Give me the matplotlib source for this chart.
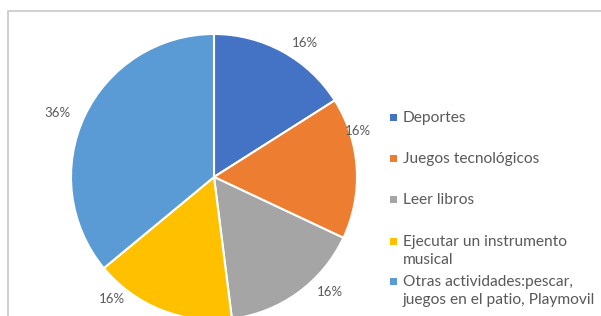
import matplotlib.pyplot as plt
import numpy as np
from matplotlib.patches import Rectangle

# Data
categories = [
    "Deportes",
    "Juegos tecnológicos",
    "Leer libros",
    "Ejecutar un instrumento\nmusical",
    "Otras actividades:pescar,\njuegos en el patio, Playmovil",
]
shares = [16, 16, 16, 16, 36]
colors = ["#4472C4", "#ED7D31", "#A5A5A5", "#FFC000", "#5B9BD5"]

# Label placement (polar, in pie-radius units), as Excel positioned them
label_angles = [55.8, 17.7, -44.7, -129.9, 157.7]
label_radii = [1.13, 1.06, 1.14, 1.11, 1.18]

plt.rcParams["font.family"] = ["Lato", "DejaVu Sans"]
text_color = "#595959"

W, H = 601, 316
fig = plt.figure(figsize=(W / 100, H / 100), dpi=100)

# Chart frame (cropped on the right and bottom)
fig.add_artist(
    Rectangle((8 / W, -0.2), 1.2, 0.2 + (H - 11) / H,
              transform=fig.transFigure, fill=False,
              edgecolor="#C8C8C8", linewidth=1.2, clip_on=False)
)

cx, cy, r = 214, 177, 143
ax = fig.add_axes([(cx - r) / W, (H - cy - r) / H, 2 * r / W, 2 * r / H])
wedges, _ = ax.pie(
    shares,
    colors=colors,
    startangle=90,
    counterclock=False,
    wedgeprops=dict(edgecolor="white", linewidth=1.5),
)
for w in wedges:
    w.set_clip_on(False)
ax.set_xlim(-1, 1)
ax.set_ylim(-1, 1)
ax.set_aspect("equal")
ax.axis("off")

for val, ang, rad in zip(shares, label_angles, label_radii):
    t = np.deg2rad(ang)
    ax.text(rad * np.cos(t), rad * np.sin(t), f"{val}%", ha="center",
            va="center", fontsize=9.5, color=text_color)

# Legend drawn by hand so first lines are evenly spaced as in Excel
legend_y = [117, 158, 199, 241, 281]
for label, col, y in zip(categories, colors, legend_y):
    fig.add_artist(Rectangle(((393 - 3.5) / W, (H - y - 3.5) / H), 7 / W, 7 / H,
                             transform=fig.transFigure, facecolor=col,
                             edgecolor="none"))
    fig.text(403 / W, (H - y + 6) / H, label, ha="left", va="top",
             fontsize=11.2, color=text_color, linespacing=1.4)

fig.savefig("out.png", dpi=100)
